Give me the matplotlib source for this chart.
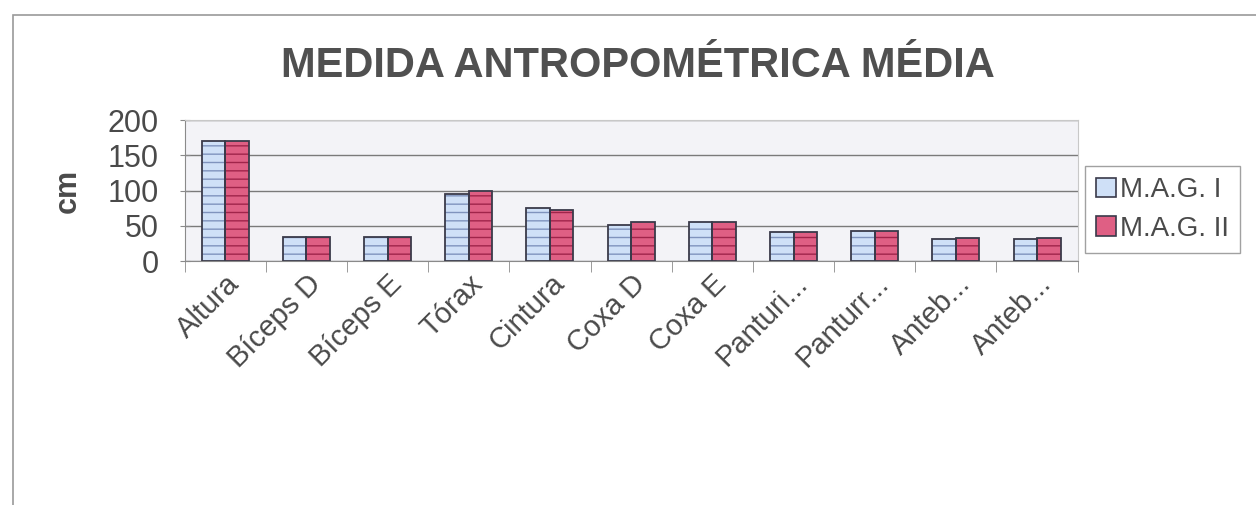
import numpy as np
import matplotlib.pyplot as plt
from matplotlib.patches import Rectangle

plt.rcParams['font.family'] = ['Liberation Sans', 'DejaVu Sans']

# Dados
categorias = ['Altura', 'Bíceps D', 'Bíceps E', 'Tórax', 'Cintura', 'Coxa D',
              'Coxa E', 'Panturi...', 'Panturr...', 'Anteb...', 'Anteb...']
mag1 = [171, 34, 34, 95, 75, 51, 55, 41, 42, 31, 31]
mag2 = [171, 34, 34, 100, 73, 55, 55, 41, 42, 33, 33]
series = ['M.A.G. I', 'M.A.G. II']

cor_texto = '#4a4a4a'
fig = plt.figure(figsize=(12.56, 5.05), dpi=100)
ax = fig.add_axes([0.147, 0.483, 0.711, 0.279])

# moldura do gráfico
fig.patches.append(Rectangle((0.010, -0.02), 1.1, 0.99, transform=fig.transFigure,
                             fill=False, edgecolor='#9a9a9a', linewidth=1.2))

x = np.arange(len(categorias))
w = 0.29
# preenchimento com listras, depois o contorno
ax.bar(x - w / 2, mag1, w, color='#cfe0f7', edgecolor='#7f93bd', hatch='--', linewidth=0, zorder=3)
ax.bar(x + w / 2, mag2, w, color='#df5f84', edgecolor='#a0244a', hatch='--', linewidth=0, zorder=3)
ax.bar(x - w / 2, mag1, w, fill=False, edgecolor='#3a3a4a', linewidth=1.3, zorder=4)
ax.bar(x + w / 2, mag2, w, fill=False, edgecolor='#3a3a4a', linewidth=1.3, zorder=4)

ax.set_facecolor('#f3f3f7')
ax.set_xlim(-0.5, len(categorias) - 0.5)
ax.set_ylim(0, 200)
ax.set_yticks([0, 50, 100, 150, 200])
ax.yaxis.grid(True, color='#7a7a7a', linewidth=1.0, zorder=1)
ax.set_axisbelow(True)

for s in ['top', 'right']:
    ax.spines[s].set_color('#c8c8c8')
for s in ['left', 'bottom']:
    ax.spines[s].set_color('#8a8a8a')

ax.set_xticks(x)
ax.set_xticklabels(categorias, rotation=45, ha='right', rotation_mode='anchor',
                   fontsize=21, color=cor_texto)
ax.tick_params(axis='x', which='major', length=0, pad=6)
ax.set_xticks(np.arange(-0.5, len(categorias), 1.0), minor=True)
ax.tick_params(axis='x', which='minor', length=8, color='#8a8a8a', direction='out')
ax.tick_params(axis='y', labelsize=22, labelcolor=cor_texto, length=7,
               direction='inout', color='#8a8a8a', pad=15)

ax.set_ylabel('cm', fontsize=22, fontweight='bold', color=cor_texto, labelpad=18)
fig.text(0.508, 0.87, 'MEDIDA ANTROPOMÉTRICA MÉDIA', ha='center', va='center',
         fontsize=30, fontweight='bold', color='#505050')

handles = [Rectangle((0, 0), 1, 1, facecolor='#cfe0f7', edgecolor='#3a3a4a', linewidth=1.2),
           Rectangle((0, 0), 1, 1, facecolor='#df5f84', edgecolor='#3a3a4a', linewidth=1.2)]
fig.legend(handles, series, loc='center left', bbox_to_anchor=(0.864, 0.585),
           fontsize=20, frameon=True, fancybox=False, edgecolor='#8a8a8a',
           handlelength=0.7, handleheight=0.7, handletextpad=0.15, labelcolor=cor_texto,
           borderpad=0.4, labelspacing=0.45, borderaxespad=0)

fig.savefig('out.png', dpi=100, facecolor='white')
